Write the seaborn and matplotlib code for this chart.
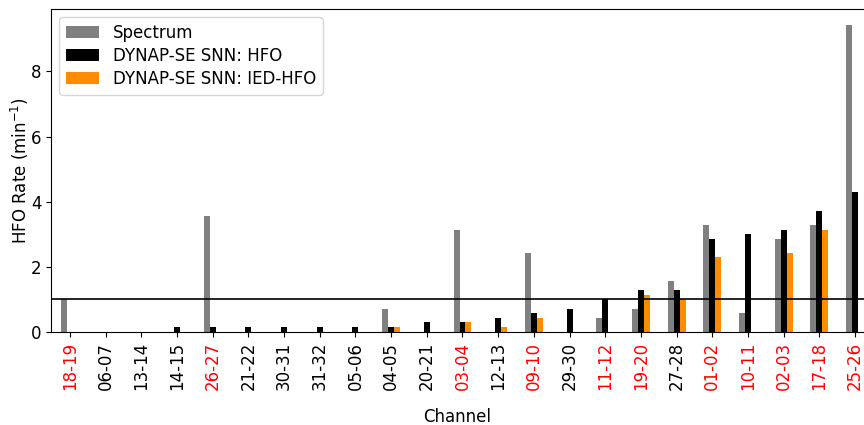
import pandas as pd
import matplotlib
matplotlib.use('Agg')
import matplotlib.pyplot as plt
import seaborn as sns

# 通道和各方法的HFO速率
channels = ['18-19', '06-07', '13-14', '14-15', '26-27', '21-22', '30-31', '31-32',
            '05-06', '04-05', '20-21', '03-04', '12-13', '09-10', '29-30', '11-12',
            '19-20', '27-28', '01-02', '10-11', '02-03', '17-18', '25-26']
red_channels = ['18-19', '26-27', '03-04', '09-10', '11-12', '19-20', '01-02',
                '10-11', '02-03', '17-18', '25-26']
spectrum = [1.0, 0, 0, 0, 3.57, 0, 0, 0, 0, 0.71, 0, 3.14, 0, 2.43, 0, 0.43,
            0.71, 1.57, 3.29, 0.57, 2.86, 3.29, 9.43]
snn_hfo = [0, 0, 0, 0.14, 0.14, 0.14, 0.14, 0.14, 0.14, 0.14, 0.29, 0.29, 0.43,
           0.57, 0.71, 1.0, 1.29, 1.29, 2.86, 3.0, 3.14, 3.71, 4.29]
snn_ied = [0, 0, 0, 0, 0, 0, 0, 0, 0, 0.14, 0, 0.29, 0.14, 0.43, 0, 0,
           1.14, 1.0, 2.29, 0, 2.43, 3.14, 0]

labels = ['Spectrum', 'DYNAP-SE SNN: HFO', 'DYNAP-SE SNN: IED-HFO']
colors = ['gray', 'black', 'darkorange']

df = pd.DataFrame({
    'channel': channels * 3,
    'rate': spectrum + snn_hfo + snn_ied,
    'source': [labels[0]] * len(channels) + [labels[1]] * len(channels) + [labels[2]] * len(channels),
})

fig = plt.figure(figsize=(8.64, 4.25), dpi=100)
ax = fig.add_axes([0.059, 0.219, 0.941, 0.76])
sns.barplot(data=df, x='channel', y='rate', hue='source', order=channels,
            hue_order=labels, palette=colors, width=0.5, saturation=1,
            errorbar=None, ax=ax)
ax.axhline(1, color='black', linewidth=1.2)
ax.set_xlim(-0.53, 22.25)
ax.set_ylim(0, 9.92)
ax.set_yticks([0, 2, 4, 6, 8])
ax.tick_params(axis='both', labelsize=12)
ax.tick_params(axis='x', labelrotation=90)
for lab in ax.get_xticklabels():
    if lab.get_text() in red_channels:
        lab.set_color('red')
ax.set_xlabel('Channel', fontsize=12, labelpad=13)
ax.set_ylabel('HFO Rate (min$^{-1}$)', fontsize=12, labelpad=0)
ax.spines['right'].set_visible(False)
ax.legend(loc='upper left', fontsize=12, labelspacing=0.3)

plt.savefig('out.png', dpi=100)
